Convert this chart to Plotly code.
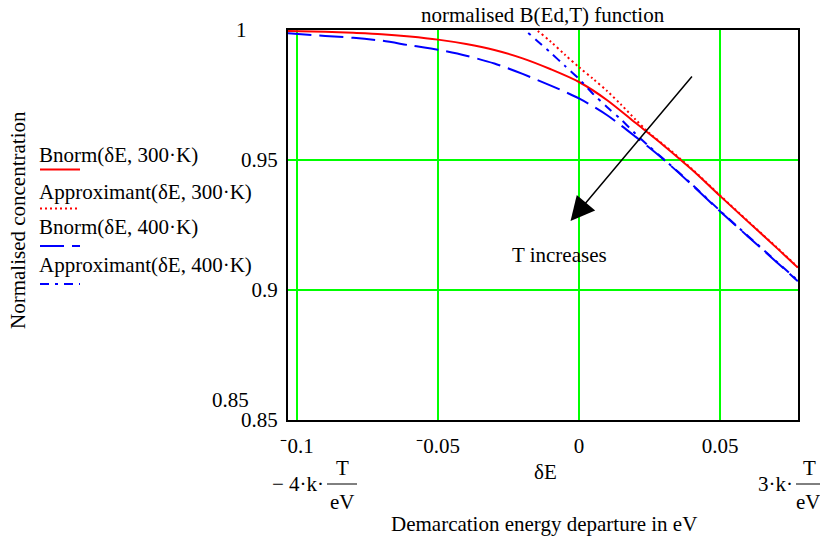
import plotly.graph_objects as go

# ---------------- data ----------------
delta_E = [-0.1034, -0.09, -0.08, -0.07, -0.06, -0.05, -0.04, -0.03, -0.02, -0.01,
           0.0, 0.01, 0.02, 0.03, 0.04, 0.05, 0.06, 0.07, 0.0776]
bnorm_300 = [0.9996, 0.9993, 0.9989, 0.9984, 0.9975, 0.9963, 0.9946, 0.9923, 0.9891, 0.9849,
             0.9800, 0.9730, 0.9643, 0.9556, 0.9463, 0.9362, 0.9262, 0.9163, 0.9086]
bnorm_400 = [0.9988, 0.9977, 0.9970, 0.9959, 0.9941, 0.9924, 0.9901, 0.9871, 0.9831, 0.9786,
             0.9737, 0.9672, 0.9590, 0.9502, 0.9405, 0.9303, 0.9205, 0.9108, 0.9034]

approx_x_300 = [-0.02, -0.015, -0.01, -0.005, 0.0, 0.005, 0.01, 0.015, 0.02, 0.025,
                0.03, 0.04, 0.05, 0.06, 0.07, 0.0776]
approx_300 = [1.0045, 1.0000, 0.9955, 0.9905, 0.9857, 0.9812, 0.9765, 0.9712, 0.9656, 0.9603,
              0.9559, 0.9466, 0.9364, 0.9264, 0.9165, 0.9088]

approx_x_400 = [-0.022, -0.019, -0.015, -0.01, -0.005, 0.0, 0.005, 0.01, 0.015, 0.02,
                0.025, 0.03, 0.04, 0.05, 0.06, 0.07, 0.0776]
approx_400 = [1.0025, 0.9998, 0.9960, 0.9912, 0.9862, 0.9812, 0.9754, 0.9703, 0.9655, 0.9601,
              0.9551, 0.9504, 0.9407, 0.9305, 0.9207, 0.9110, 0.9036]

x_ticks = [-0.1, -0.05, 0.0, 0.05]
x_tick_labels = ["\u207b0.1", "\u207b0.05", "0", "0.05"]
y_ticks = [0.85, 0.9, 0.95]
y_tick_labels = ["0.85", "0.9", "0.95"]
x_range = [-0.1031915, 0.0776596]
y_range = [0.85, 1.0]

legend_names = ["Bnorm(\u03b4E, 300\u00b7K)", "Approximant(\u03b4E, 300\u00b7K)",
                "Bnorm(\u03b4E, 400\u00b7K)", "Approximant(\u03b4E, 400\u00b7K)"]

# ---------------- styling ----------------
FONT = "Liberation Serif, Times New Roman, serif"
FS = 21
RED = "#ff0000"
BLUE = "#0000ff"
styles = [
    dict(color=RED, width=2, dash="solid"),
    dict(color=RED, width=2, dash="2px,3px"),
    dict(color=BLUE, width=2, dash="24px,8px"),
    dict(color=BLUE, width=2, dash="9px,6px,3px,6px"),
]

W, H = 820, 536
L, R, T, B = 288, 798, 30, 420


def pxx(x):
    return (x - L) / (R - L)


def pxy(y):
    return (B - y) / (B - T)


fig = go.Figure()
series = [(delta_E, bnorm_300), (approx_x_300, approx_300),
          (delta_E, bnorm_400), (approx_x_400, approx_400)]
for (xs, ys), st, nm in zip(series, styles, legend_names):
    fig.add_trace(go.Scatter(x=xs, y=ys, mode="lines", name=nm,
                             line=dict(shape="spline", smoothing=0.8, **st),
                             showlegend=False))

ann = []
shapes = []


def text(s, x, y, xanchor="center", size=FS, yanchor="middle"):
    ann.append(dict(text=s, x=pxx(x), y=pxy(y), xref="paper", yref="paper",
                    xanchor=xanchor, yanchor=yanchor, showarrow=False,
                    font=dict(family=FONT, size=size, color="black")))


# title
text("normalised B(Ed,T) function", 543, 15)
# y axis title
ann.append(dict(text="Normalised concentration", x=pxx(18), y=pxy(220), xref="paper", yref="paper",
                textangle=-90, showarrow=False, xanchor="center", yanchor="middle",
                font=dict(family=FONT, size=FS, color="black")))
# limit labels on y
text("1", 241, 30)
text("0.85", 230, 400)
# x axis labels
text("\u03b4E", 545, 472)
text("Demarcation energy departure in eV", 544, 524)
# left limit: -4·k·T/eV
text("\u2212 4\u00b7k\u00b7", 326, 484, xanchor="right")
text("T", 342, 468)
text("eV", 342, 502)
shapes.append(dict(type="line", xref="paper", yref="paper", x0=pxx(327), x1=pxx(357),
                   y0=pxy(484), y1=pxy(484), line=dict(color="black", width=1)))
# right limit: 3·k·T/eV
text("3\u00b7k\u00b7", 795, 484, xanchor="right")
text("T", 809, 468)
text("eV", 808, 502)
shapes.append(dict(type="line", xref="paper", yref="paper", x0=pxx(796), x1=pxx(822),
                   y0=pxy(484), y1=pxy(484), line=dict(color="black", width=1)))

# custom legend
leg_text_y = [155, 191.5, 227, 265]
leg_line_y = [169.5, 208.5, 246, 284]
for nm, st, ty, ly in zip(legend_names, styles, leg_text_y, leg_line_y):
    text(nm, 37, ty, xanchor="left")
    shapes.append(dict(type="line", xref="paper", yref="paper", x0=pxx(40), x1=pxx(80),
                       y0=pxy(ly), y1=pxy(ly),
                       line=dict(color=st["color"], width=st["width"], dash=st["dash"])))

# arrow "T increases"
ann.append(dict(x=-0.0030, y=0.9265, ax=0.0405, ay=0.9827, xref="x", yref="y",
                axref="x", ayref="y", showarrow=True, arrowhead=2, arrowsize=3.2,
                arrowwidth=1.5, arrowcolor="black", text=""))
ann.append(dict(text="T increases", x=-0.0068, y=0.9135, xref="x", yref="y",
                showarrow=False, xanchor="center", yanchor="middle",
                font=dict(family=FONT, size=FS, color="black")))

fig.update_layout(
    width=W, height=H,
    margin=dict(l=L, r=W - R, t=T, b=H - B, pad=0),
    paper_bgcolor="white", plot_bgcolor="white",
    font=dict(family=FONT, size=FS, color="black"),
    annotations=ann, shapes=shapes,
    xaxis=dict(range=x_range, tickvals=x_ticks, ticktext=x_tick_labels,
               showgrid=True, gridcolor="#00ff00", gridwidth=1.5,
               showline=True, linecolor="black", linewidth=2, mirror=True,
               ticks="", zeroline=False, tickfont=dict(family=FONT, size=FS),
               ticklabelstandoff=6),
    yaxis=dict(range=y_range, tickvals=y_ticks, ticktext=y_tick_labels,
               showgrid=True, gridcolor="#00ff00", gridwidth=1.5,
               showline=True, linecolor="black", linewidth=2, mirror=True,
               ticks="", zeroline=False, tickfont=dict(family=FONT, size=FS),
               ticklabelstandoff=4),
)

fig.write_html("out.html")
